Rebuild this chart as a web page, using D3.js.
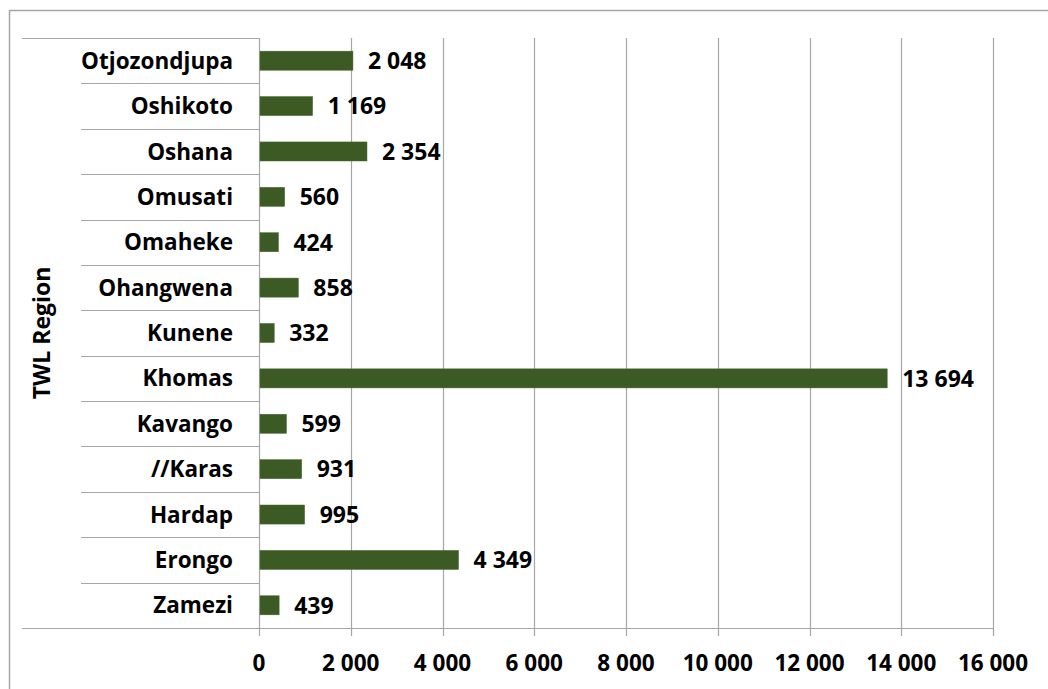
<!DOCTYPE html>
<html><head><meta charset="utf-8">
<script src="https://cdn.jsdelivr.net/npm/d3@7"></script>
<style>
html,body{margin:0;padding:0;background:#fff;}
svg{display:block;}
text{font-family:"Open Sans",sans-serif;font-weight:bold;fill:#000;}
</style></head>
<body>
<script>
const categories = ["Otjozondjupa","Oshikoto","Oshana","Omusati","Omaheke","Ohangwena","Kunene","Khomas","Kavango","//Karas","Hardap","Erongo","Zamezi"];
const values = [2048,1169,2354,560,424,858,332,13694,599,931,995,4349,439];
const xTicks = [0,2000,4000,6000,8000,10000,12000,14000,16000];
const axisTitle = "TWL Region";

(function(){
const W=1048,H=689;
const pL=259,pR=993,pT=38,pB=628;
const svg=d3.select("body").append("svg").attr("width",W).attr("height",H);

// outer border
svg.append("line").attr("x1",9).attr("x2",W).attr("y1",10.5).attr("y2",10.5).attr("stroke","#a6a6a6").attr("stroke-width",1.5);
svg.append("line").attr("x1",9.5).attr("x2",9.5).attr("y1",10).attr("y2",H).attr("stroke","#a6a6a6").attr("stroke-width",1.5);

const x=d3.scaleLinear().domain([0,16000]).range([pL,pR]);
const y=d3.scaleBand().domain(categories).range([pT,pB]).paddingInner(0.58).paddingOuter(0.29);
const band=d3.scaleBand().domain(categories).range([pT,pB]);
const fmt=d=>d3.format(",")(d).replace(/,/g," ");

// gridlines
svg.append("g").selectAll("line").data(xTicks.slice(1)).join("line")
  .attr("x1",d=>Math.round(x(d))+0.5).attr("x2",d=>Math.round(x(d))+0.5)
  .attr("y1",pT).attr("y2",pB+8).attr("stroke","#a6a6a6").attr("stroke-width",1.2);

// category separators
svg.append("g").selectAll("line").data(categories.slice(1)).join("line")
  .attr("x1",81).attr("x2",pL).attr("y1",d=>Math.round(band(d))+0.5).attr("y2",d=>Math.round(band(d))+0.5)
  .attr("stroke","#a6a6a6").attr("stroke-width",1.2);
svg.append("line").attr("x1",22).attr("x2",pL).attr("y1",pT+0.5).attr("y2",pT+0.5).attr("stroke","#a6a6a6").attr("stroke-width",1.2);
svg.append("line").attr("x1",22).attr("x2",pR+0.5).attr("y1",pB+0.5).attr("y2",pB+0.5).attr("stroke","#a6a6a6").attr("stroke-width",1.2);
// y axis line
svg.append("line").attr("x1",pL+0.5).attr("x2",pL+0.5).attr("y1",pT).attr("y2",pB+8).attr("stroke","#a6a6a6").attr("stroke-width",1.2);

// bars
svg.append("g").selectAll("rect").data(values).join("rect")
  .attr("x",x(0)+1).attr("y",(d,i)=>y(categories[i]))
  .attr("width",d=>x(d)-x(0)-1).attr("height",y.bandwidth())
  .attr("fill","#3c5a24").attr("stroke","#4a6a30").attr("stroke-width",0.5);

// value labels
svg.append("g").selectAll("text").data(values).join("text")
  .attr("x",d=>x(d)+15).attr("y",(d,i)=>band(categories[i])+band.bandwidth()/2)
  .attr("dy","0.36em").attr("font-size",23).text(d=>fmt(d));

// category labels
svg.append("g").selectAll("text").data(categories).join("text")
  .attr("x",233).attr("y",d=>band(d)+band.bandwidth()/2).attr("dy","0.36em")
  .attr("text-anchor","end").attr("font-size",22.5).text(d=>d);

// x tick labels
svg.append("g").selectAll("text").data(xTicks).join("text")
  .attr("x",d=>x(d)).attr("y",663).attr("dy","0.36em").attr("text-anchor","middle")
  .attr("font-size",22.5).text(d=>fmt(d));

// axis title
svg.append("text").attr("transform",`translate(42,${(pT+pB)/2}) rotate(-90)`)
  .attr("text-anchor","middle").attr("dy","0.36em").attr("font-size",23).text(axisTitle);
})();
</script>
</body></html>
